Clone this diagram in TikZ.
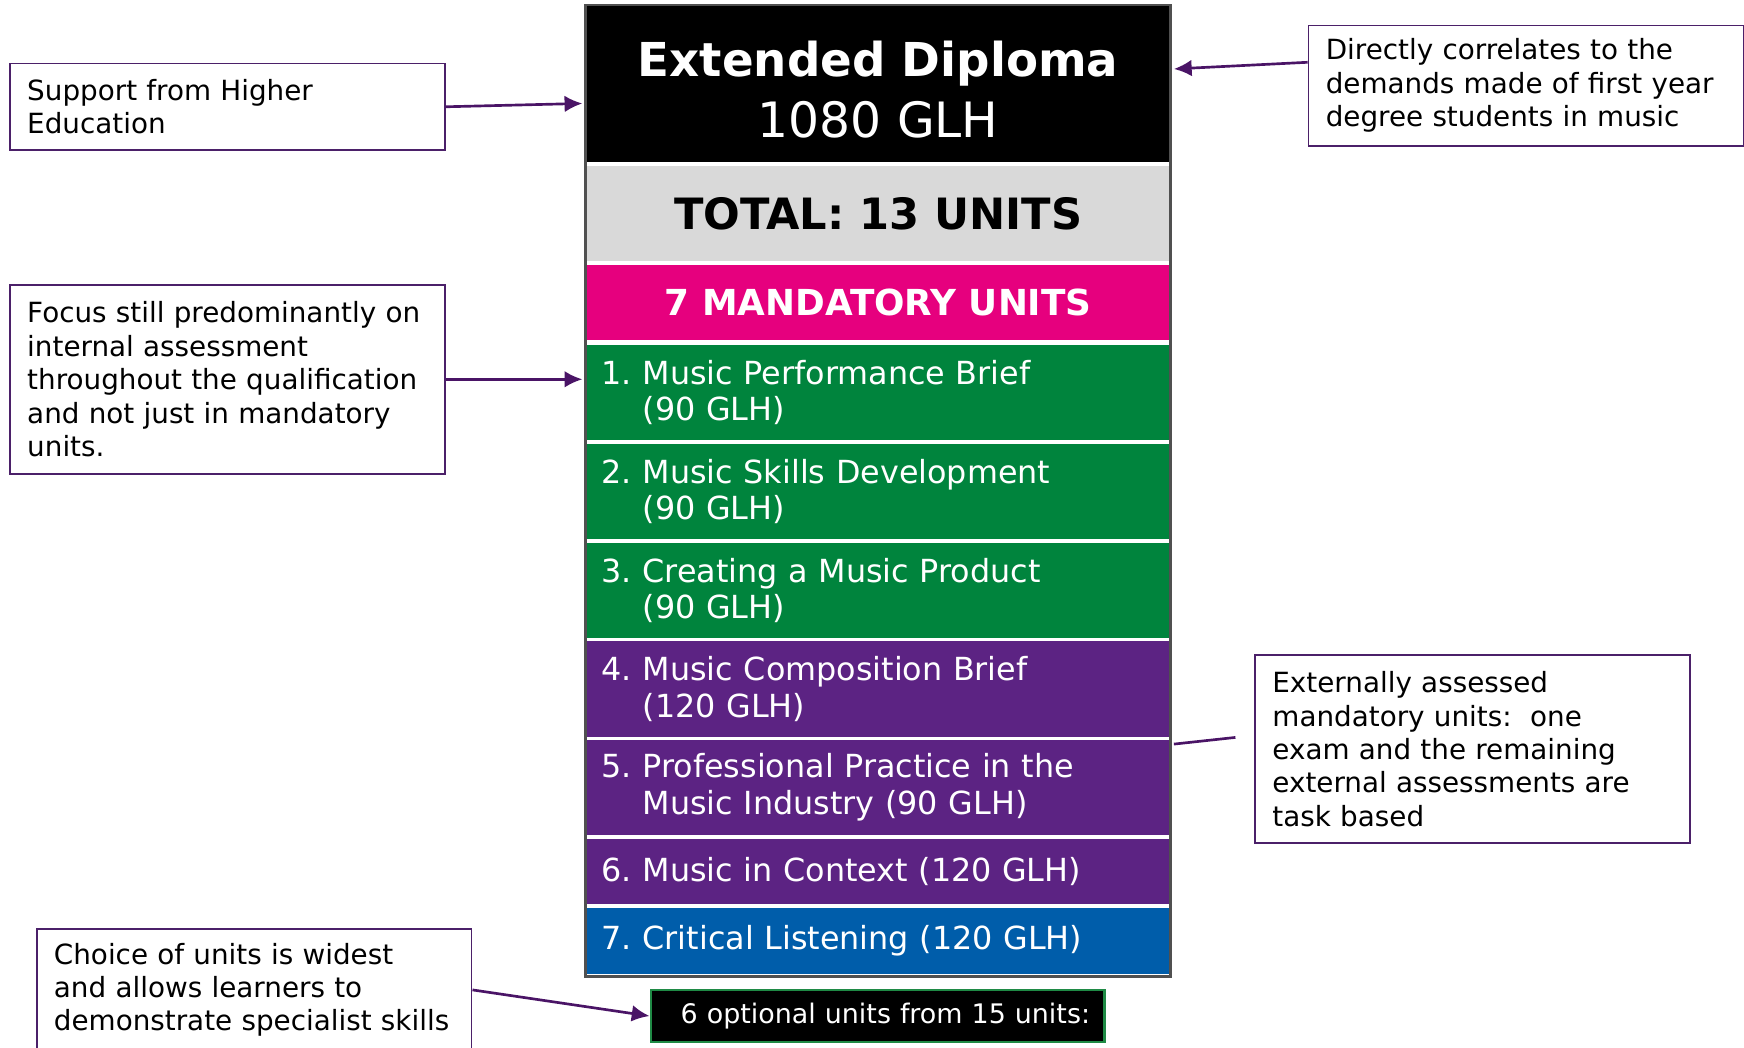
\documentclass[tikz,border=0pt]{standalone}
\usepackage{fontspec}
\setmainfont{DejaVu Sans}
\usetikzlibrary{arrows.meta}
\frenchspacing

\definecolor{totalgrey}{HTML}{D9D9D9}
\definecolor{mandpink}{HTML}{E6007E}
\definecolor{unitgreen}{HTML}{00843D}
\definecolor{unitpurple}{HTML}{5C2383}
\definecolor{unitblue}{HTML}{005DAA}
\definecolor{boxpurple}{HTML}{4B2069}
\definecolor{arrowpurple}{HTML}{4A1466}
\definecolor{optgreen}{HTML}{1F8A45}
\definecolor{colborder}{HTML}{505050}

\tikzset{
  note/.style={draw=boxpurple, line width=0.8pt, align=left, inner xsep=7.75pt,
    text width=180pt, minimum width=195pt, font=\fontsize{12.5}{15}\selectfont},
  band/.style={minimum width=261.5pt, inner sep=0pt, text=white},
  unit/.style={band, align=left, inner xsep=6.5pt, text width=248.5pt,
    minimum height=43pt, font=\fontsize{14.3}{16.5}\selectfont},
  conn/.style={-{Latex[length=8pt,width=7.5pt]}, draw=arrowpurple, line width=1.2pt},
  link/.style={draw=arrowpurple, line width=1.2pt}
}

\begin{document}
\begin{tikzpicture}[x=0.5pt, y=-0.5pt]
            \useasboundingbox (0,0) rectangle (1568,942);

            % column of units
            \fill[colborder] (525,4) rectangle (1054,879);
            \fill[white] (528,5) rectangle (1051,877);
            \node[band, fill=black, minimum height=70.5pt, align=center,
                font=\fontsize{21}{27}\selectfont] (head) at (789.5,75.5)
                {\rule{0pt}{21pt}{\bfseries Extended Diploma}\\{\fontsize{21.9}{27}\selectfont 1080 GLH}};
            \node[band, fill=totalgrey, text=black, minimum height=43pt,
                font=\bfseries\fontsize{19.4}{22}\selectfont] (total) at (789.5,192) {TOTAL: 13 UNITS};
            \node[band, fill=mandpink, minimum height=34pt,
                font=\bfseries\fontsize{16.1}{19}\selectfont] (mand) at (789.5,272) {7 MANDATORY UNITS};
            \node[unit, fill=unitgreen] (u1) at (789.5,353) {1. Music Performance Brief\\\hphantom{1.\ }(90 GLH)};
            \node[unit, fill=unitgreen] (u2) at (789.5,442) {2. Music Skills Development\\\hphantom{2.\ }(90 GLH)};
            \node[unit, fill=unitgreen] (u3) at (789.5,531) {3. Creating a Music Product\\\hphantom{3.\ }(90 GLH)};
            \node[unit, fill=unitpurple] (u4) at (789.5,619.5) {4. Music Composition Brief\\\hphantom{4.\ }(120 GLH)};
            \node[unit, fill=unitpurple] (u5) at (789.5,708) {5. Professional Practice in the\\\hphantom{5.\ }Music Industry (90 GLH)};
            \node[unit, fill=unitpurple, minimum height=29.5pt] (u6) at (789.5,783.5) {6. Music in Context (120 GLH)};
            \node[unit, fill=unitblue, minimum height=30pt] (u7) at (789.5,846) {7. Critical Listening (120 GLH)};

            \node[draw=optgreen, line width=1pt, fill=black, text=white, minimum width=204pt, minimum height=23.5pt,
                inner xsep=13.5pt, text width=177pt, align=left, font=\fontsize{12.1}{14}\selectfont] (opt) at (789,913.5)
                {\mbox{6 optional units from 15 units:}};

            % notes round the column
            \node[note, minimum height=39pt] (support) at (204.5,96) {Support from Higher\\Education};
            \node[note, minimum height=85pt] (focus) at (204.5,341) {Focus~still~predominantly~on\\internal assessment\\throughout the qualification\\and not just in mandatory\\units.};
            \node[note, minimum height=54pt] (correl) at (1372,77) {Directly correlates to the\\demands made of first year\\degree students in music};
            \node[note, minimum height=84.5pt] (extern) at (1324,673.5) {Externally assessed\\mandatory units:\ \ one\\exam and the remaining\\external assessments are\\task based};
            \node[note, minimum height=55pt] (choice) at (228.5,890) {Choice of units is widest\\and allows learners to\\demonstrate~specialist~skills};

            \draw[conn] (support.east) -- ([xshift=-2pt,yshift=-8.75pt]head.west);
            \draw[conn] (focus.east) -- ([xshift=-2pt]focus.east -| u1.west);
            \draw[conn] ([yshift=10.5pt]correl.west) -- ([xshift=2pt,yshift=6.75pt]head.east);
            \draw[link] ([xshift=-8.5pt,yshift=5.25pt]extern.west) -- ([xshift=2pt,yshift=19.5pt]u5.east);
            \draw[conn] (choice.east) -- (opt.west);
        \end{tikzpicture}
\end{document}
